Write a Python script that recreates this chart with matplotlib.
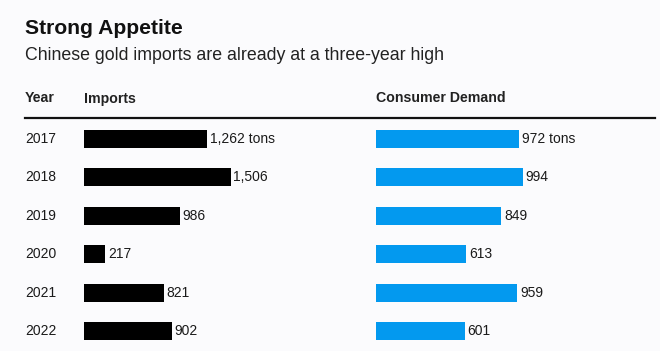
import matplotlib
matplotlib.use('Agg')
import matplotlib.pyplot as plt
from matplotlib.lines import Line2D
from matplotlib.transforms import blended_transform_factory

plt.rcParams['font.family'] = ['Liberation Sans', 'DejaVu Sans']

years = ['2017', '2018', '2019', '2020', '2021', '2022']
imports = [1262, 1506, 986, 217, 821, 902]
demand = [972, 994, 849, 613, 959, 601]

W, H = 660, 351
fig = plt.figure(figsize=(W / 100, H / 100), dpi=100)
fig.patch.set_facecolor('#fbfbfd')

def px_axes(left, width):
    # axes from header rule down to the bottom edge, in pixels
    return fig.add_axes([left / W, 0, width / W, (H - 120) / H])

ax1 = px_axes(84, 280)
ax2 = px_axes(376, 270)

txt = '#1a1a1a'
for ax, vals, color in [(ax1, imports, '#000000'), (ax2, demand, '#0399ef')]:
    ypos = range(len(vals))
    ax.barh(ypos, vals, height=0.47, color=color)
    ax.set_ylim(5.52, -0.495)
    ax.set_xlim(0, max(vals) * ax.bbox.width / 146.5)
    ax.axis('off')
    for i, v in enumerate(vals):
        label = f'{v:,}' + (' tons' if i == 0 else '')
        ax.annotate(label, (v, i), xytext=(2, 0), textcoords='offset points',
                    va='center', ha='left', fontsize=10, color=txt)

tr = blended_transform_factory(fig.transFigure, ax1.transData)
for i, y in enumerate(years):
    fig.text(25 / W, i, y, transform=tr, va='center', ha='left', fontsize=10, color=txt)

fig.text(25 / W, 1 - 34 / H, 'Strong Appetite', fontsize=15.2, fontweight='bold',
         color='#111', va='baseline')
fig.text(25 / W, 1 - 59.5 / H, 'Chinese gold imports are already at a three-year high',
         fontsize=12.8, color='#222', va='baseline')

for x, label in [(25, 'Year'), (84, 'Imports'), (376, 'Consumer Demand')]:
    fig.text(x / W, 1 - 102.5 / H, label, fontsize=10.2, fontweight='bold',
             color='#222', va='baseline')

fig.add_artist(Line2D([25 / W, 655 / W], [1 - 118.3 / H] * 2, color='#111', lw=1.6))

fig.savefig('out.png', dpi=100, facecolor=fig.get_facecolor())
